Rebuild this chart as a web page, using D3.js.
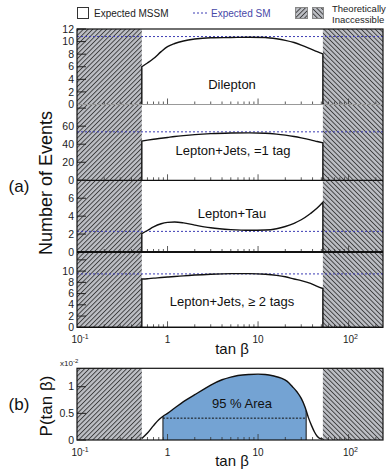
<!DOCTYPE html>
<html><head><meta charset="utf-8">
<script src="https://cdn.jsdelivr.net/npm/d3@7"></script>
<style>body{margin:0;background:#fff}svg{display:block}text{font-family:"Liberation Sans",Arial,sans-serif}</style>
</head><body>
<script>
// ---- data ----
const tanbGrid = [0.52,0.6,0.7,0.85,1,1.2,1.5,2,3,5,8,12,16,20,25,30,38,45,52];
const dilepton  = [6.0,6.6,7.3,8.4,9.2,9.7,10.1,10.4,10.6,10.65,10.7,10.65,10.45,10.2,9.85,9.45,8.85,8.4,8.05];
const ljets1tag = [43.5,44.5,45.5,46.6,47.5,48.5,49.5,50.6,51.7,52.4,52.6,52.2,51.2,50.0,48.5,47.0,44.8,43.0,41.5];
const leptau    = [2.05,2.4,2.8,3.15,3.3,3.35,3.25,3.0,2.7,2.5,2.42,2.45,2.6,2.85,3.2,3.6,4.3,4.9,5.55];
const ljets2tag = [8.6,8.65,8.75,8.85,8.95,9.05,9.15,9.3,9.45,9.55,9.55,9.45,9.25,9.0,8.6,8.3,7.8,7.3,6.9];
const smExpected = [10.8, 53.7, 2.3, 9.5];
const panelNames = ["Dilepton","Lepton+Jets, =1 tag","Lepton+Tau","Lepton+Jets, \u2265 2 tags"];
const panelYMax = [12, 84, 8, 13.4];
const panelYTicks = [[0,2,4,6,8,10,12],[0,20,40,60,80],[0,2,4,6,8],[0,2,4,6,8,10,12]];
const panelYLabels = [[0,2,4,6,8,10,12],[0,20,40,60],[0,2,4,6],[0,2,4,6,8,10]];
const probTanb = [0.52,0.6,0.7,0.8,0.9,1.0,1.2,1.5,2,2.5,3,4,5,6,8,10,12,15,18,21,24,27,30,33,36,39,42,45,48,52];
const probVal  = [0.03,0.13,0.27,0.38,0.45,0.5,0.6,0.72,0.85,0.95,1.03,1.13,1.18,1.21,1.23,1.235,1.23,1.2,1.16,1.1,1.0,0.9,0.78,0.62,0.42,0.27,0.15,0.07,0.03,0.02];
const area95 = [0.89, 34];
const area95Level = 0.41;
const probYTicks = [0, 0.5, 1];
const xTickLabels = [[0.1,"10","-1"],[1,"1",""],[10,"10",""],[100,"10","2"]];
const inaccessible = [0.52, 52];
const xDomain = [0.1, 240];

// ---- layout ----
const W=387,H=470;
const svg=d3.select("body").append("svg").attr("width",W).attr("height",H);
const defs=svg.append("defs");
function hatch(id,angle){
  const p=defs.append("pattern").attr("id",id).attr("patternUnits","userSpaceOnUse")
   .attr("width",3.3).attr("height",3.3).attr("patternTransform",`rotate(${angle})`);
  p.append("rect").attr("width",3.3).attr("height",3.3).attr("fill","#bdbfc5");
  p.append("line").attr("x1",0.5).attr("x2",0.5).attr("y1",0).attr("y2",3.3).attr("stroke","#262626").attr("stroke-width",0.8);
}
hatch("hL",45); hatch("hR",-45);

const x=d3.scaleLog().domain(xDomain).range([77,383]);
const bands=[[104.5,29],[180.3,104.5],[252,180.3],[327.3,252]];
const ys=bands.map((b,i)=>d3.scaleLinear().domain([0,panelYMax[i]]).range(b));
const series=[dilepton,ljets1tag,leptau,ljets2tag];

function hatchRegions(top,bottom){
  svg.append("rect").attr("x",x(xDomain[0])).attr("y",top).attr("width",x(inaccessible[0])-x(xDomain[0])).attr("height",bottom-top).attr("fill","url(#hL)");
  svg.append("rect").attr("x",x(inaccessible[1])).attr("y",top).attr("width",x(xDomain[1])-x(inaccessible[1])).attr("height",bottom-top).attr("fill","url(#hR)");
}
hatchRegions(29,327.3);

const minorX=[];
for(const d of [0.1,1,10,100]) for(let k=2;k<=9;k++){const v=d*k; if(v<=xDomain[1]) minorX.push(v);}
const majorX=[1,10,100];

series.forEach((vals,i)=>{
  const y=ys[i];
  svg.append("line").attr("x1",77).attr("x2",383).attr("y1",y(smExpected[i])).attr("y2",y(smExpected[i]))
    .attr("stroke","#3c3cb4").attr("stroke-width",1).attr("stroke-dasharray","2,2");
  const line=d3.line().x(d=>x(d[0])).y(d=>y(d[1])).curve(d3.curveMonotoneX);
  const inner=tanbGrid.map((t,j)=>[t,vals[j]]);
  const pathStr=`M${x(inaccessible[0])},${y(0)}L`+line(inner).slice(1)+`L${x(inaccessible[1])},${y(0)}`;
  svg.append("path").attr("d",pathStr).attr("fill","none").attr("stroke","#111").attr("stroke-width",1.4);
  panelYTicks[i].forEach(v=>{
    svg.append("line").attr("x1",77).attr("x2",86).attr("y1",y(v)).attr("y2",y(v)).attr("stroke","#222").attr("stroke-width",1);
  });
  panelYLabels[i].forEach(v=>{
    svg.append("text").attr("x",74).attr("y",y(v)+3.6).attr("text-anchor","end").attr("font-size",10.5).attr("fill","#222").text(v);
  });
  const y0=y(0);
  minorX.forEach(v=>svg.append("line").attr("x1",x(v)).attr("x2",x(v)).attr("y1",y0).attr("y2",y0-3).attr("stroke","#333").attr("stroke-width",0.8));
  majorX.forEach(v=>svg.append("line").attr("x1",x(v)).attr("x2",x(v)).attr("y1",y0).attr("y2",y0-6).attr("stroke","#333").attr("stroke-width",0.8));
  svg.append("line").attr("x1",77).attr("x2",383).attr("y1",y0).attr("y2",y0)
    .attr("stroke",i===0?"#999":"#111").attr("stroke-width",i===2?2:1.2);
});
svg.append("rect").attr("x",77).attr("y",29).attr("width",306).attr("height",327.3-29).attr("fill","none").attr("stroke","#111").attr("stroke-width",1.2);

const labelPos=[[232,89],[233,155],[232,218],[232,306]];
panelNames.forEach((n,i)=>svg.append("text").attr("x",labelPos[i][0]).attr("y",labelPos[i][1]).attr("text-anchor","middle").attr("font-size",13).attr("fill","#111").text(n));

function xLabels(yb){
  xTickLabels.forEach(([v,b,e])=>{
    const bw=b.length*5.6;
    const t=svg.append("text").attr("x",x(v)-bw/2).attr("y",yb).attr("font-size",10).attr("fill","#222");
    t.append("tspan").text(b);
    if(e) t.append("tspan").attr("dy",-4).attr("font-size",7).text(e);
  });
}
xLabels(343);
svg.append("text").attr("x",232).attr("y",354).attr("text-anchor","middle").attr("font-size",15).attr("fill","#111").text("tan \u03b2");

svg.append("text").attr("transform","translate(52,183) rotate(-90)").attr("text-anchor","middle").attr("font-size",18).attr("fill","#111").text("Number of Events");
svg.append("text").attr("x",19).attr("y",192).attr("text-anchor","middle").attr("font-size",17).attr("fill","#111").text("(a)");
svg.append("text").attr("x",19).attr("y",410).attr("text-anchor","middle").attr("font-size",17).attr("fill","#111").text("(b)");

// ---- panel (b) ----
const yb=d3.scaleLinear().domain([0,1.345]).range([440,368.3]);
svg.append("rect").attr("x",x(xDomain[0])).attr("y",368.3).attr("width",x(inaccessible[0])-x(xDomain[0])).attr("height",440-368.3).attr("fill","url(#hL)");
svg.append("rect").attr("x",x(inaccessible[1])).attr("y",368.3).attr("width",x(xDomain[1])-x(inaccessible[1])).attr("height",440-368.3).attr("fill","url(#hR)");
const probPts=probTanb.map((t,j)=>[t,probVal[j]]);
const interp=t=>{
  for(let j=0;j<probTanb.length-1;j++){ if(t>=probTanb[j]&&t<=probTanb[j+1]){const a=Math.log(probTanb[j]),b=Math.log(probTanb[j+1]);const f=(Math.log(t)-a)/(b-a);return probVal[j]+f*(probVal[j+1]-probVal[j]);}} return 0;};
const areaPts=[[area95[0],interp(area95[0])]].concat(probPts.filter(d=>d[0]>area95[0]&&d[0]<area95[1])).concat([[area95[1],interp(area95[1])]]);
svg.append("path").attr("d",d3.area().x(d=>x(d[0])).y0(yb(0)).y1(d=>yb(d[1])).curve(d3.curveMonotoneX)(areaPts))
  .attr("fill","#74a3d3").attr("stroke","none");
area95.forEach(t=>svg.append("line").attr("x1",x(t)).attr("x2",x(t)).attr("y1",yb(0)).attr("y2",yb(interp(t))).attr("stroke","#111").attr("stroke-width",1));
svg.append("line").attr("x1",x(area95[0])).attr("x2",x(area95[1])).attr("y1",yb(area95Level)).attr("y2",yb(area95Level)).attr("stroke","#111").attr("stroke-width",1).attr("stroke-dasharray","2,1.5");
svg.append("path").attr("d",d3.line().x(d=>x(d[0])).y(d=>yb(d[1])).curve(d3.curveMonotoneX)(probPts)).attr("fill","none").attr("stroke","#111").attr("stroke-width",1.4);
minorX.forEach(v=>svg.append("line").attr("x1",x(v)).attr("x2",x(v)).attr("y1",440).attr("y2",437).attr("stroke","#333").attr("stroke-width",0.8));
majorX.forEach(v=>svg.append("line").attr("x1",x(v)).attr("x2",x(v)).attr("y1",440).attr("y2",434).attr("stroke","#333").attr("stroke-width",0.8));
probYTicks.forEach(v=>{
  svg.append("line").attr("x1",77).attr("x2",86).attr("y1",yb(v)).attr("y2",yb(v)).attr("stroke","#222");
  svg.append("text").attr("x",74).attr("y",yb(v)+3.6).attr("text-anchor","end").attr("font-size",10.5).attr("fill","#222").text(v);
});
svg.append("rect").attr("x",77).attr("y",368.3).attr("width",306).attr("height",440-368.3).attr("fill","none").attr("stroke","#111").attr("stroke-width",1.2);
const ex=svg.append("text").attr("x",60).attr("y",366).attr("font-size",8).attr("fill","#222");
ex.append("tspan").text("x10"); ex.append("tspan").attr("dy",-3.5).attr("font-size",6).text("-2");
svg.append("text").attr("x",242).attr("y",408).attr("text-anchor","middle").attr("font-size",13).attr("fill","#111").text("95 % Area");
xLabels(456);
svg.append("text").attr("x",232).attr("y",466).attr("text-anchor","middle").attr("font-size",15).attr("fill","#111").text("tan \u03b2");
svg.append("text").attr("transform","translate(52,406) rotate(-90)").attr("text-anchor","middle").attr("font-size",17).attr("fill","#111").text("P(tan \u03b2)");

// ---- legend ----
svg.append("rect").attr("x",77.5).attr("y",7.5).attr("width",11).attr("height",11).attr("fill","#fff").attr("stroke","#333");
svg.append("text").attr("x",94).attr("y",17).attr("font-size",10).attr("fill","#222").text("Expected MSSM");
svg.append("line").attr("x1",193).attr("x2",208).attr("y1",13).attr("y2",13).attr("stroke","#3c3cb4").attr("stroke-dasharray","2,2");
svg.append("text").attr("x",211).attr("y",17).attr("font-size",10).attr("fill","#4848a8").text("Expected SM");
svg.append("rect").attr("x",295.5).attr("y",7.5).attr("width",12).attr("height",11).attr("fill","url(#hL)").attr("stroke","#888");
svg.append("rect").attr("x",312.5).attr("y",7.5).attr("width",11).attr("height",11).attr("fill","url(#hR)").attr("stroke","#888");
svg.append("text").attr("x",332).attr("y",12).attr("font-size",9.5).attr("fill","#222").text("Theoretically");
svg.append("text").attr("x",332).attr("y",23).attr("font-size",9.5).attr("fill","#222").text("Inaccessible");
</script>
</body></html>
